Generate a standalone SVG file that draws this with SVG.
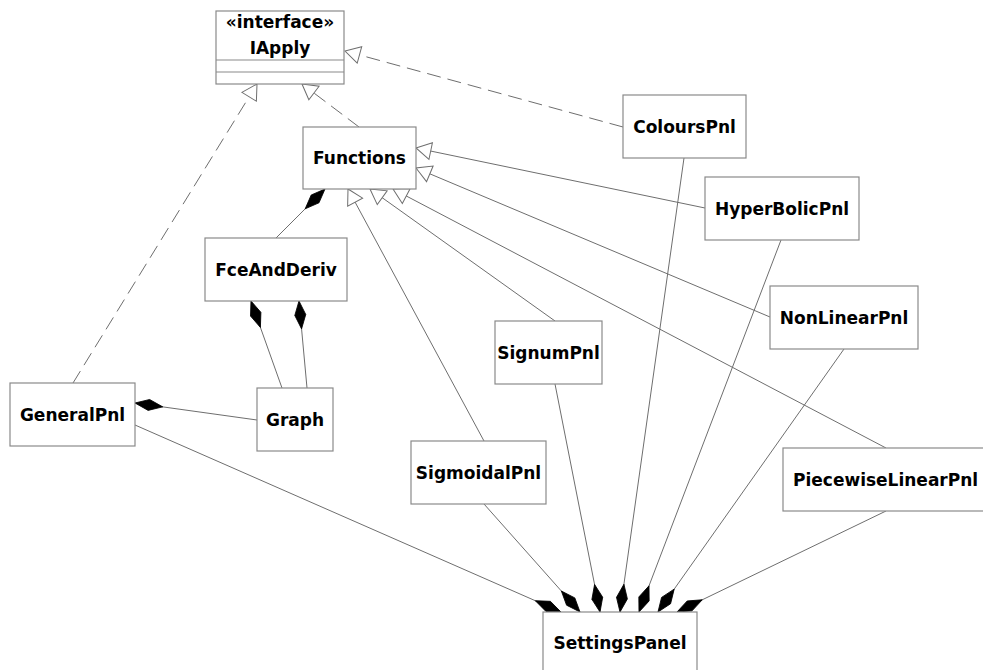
<svg xmlns="http://www.w3.org/2000/svg" width="983" height="670" viewBox="0 0 983 670">
<style>
  .box { fill: #ffffff; stroke: #8a8a8a; stroke-width: 1.2; }
  .sep { stroke: #8a8a8a; stroke-width: 1.2; }
  .lbl { font-family: "DejaVu Sans", "Liberation Sans", sans-serif; font-weight: bold; font-size: 17px; fill: #000000; text-anchor: middle; }
  .edge { fill: none; stroke: #6e6e6e; stroke-width: 1; }
  .dash { stroke-dasharray: 14 7; }
  .tri { fill: #ffffff; stroke: #6e6e6e; stroke-width: 1; stroke-dasharray: none; }
  .dia { fill: #000000; stroke: #000000; stroke-width: 0.8; stroke-dasharray: none; }
</style>
<defs>
  <marker id="hollow" markerUnits="userSpaceOnUse" markerWidth="18" markerHeight="20" refX="16" refY="9.5" orient="auto" overflow="visible">
    <path class="tri" d="M1,1 L16,9.5 L1,18 z"/>
  </marker>
  <marker id="diamond" markerUnits="userSpaceOnUse" markerWidth="30" markerHeight="14" refX="28" refY="7" orient="auto" overflow="visible">
    <path class="dia" d="M0,7 L14,1.5 L28,7 L14,12.5 z"/>
  </marker>
</defs>

<g id="connectors">
  <!-- realizations -->
  <line class="edge dash" x1="359" y1="127" x2="302" y2="84" marker-end="url(#hollow)"/>
  <line class="edge dash" x1="73" y1="383" x2="257" y2="84" marker-end="url(#hollow)"/>
  <line class="edge dash" x1="623" y1="127" x2="345" y2="51" marker-end="url(#hollow)"/>
  <!-- generalizations to Functions -->
  <line class="edge" x1="705" y1="208" x2="416" y2="148" marker-end="url(#hollow)"/>
  <line class="edge" x1="770" y1="317" x2="416" y2="168" marker-end="url(#hollow)"/>
  <line class="edge" x1="484" y1="441" x2="348" y2="189" marker-end="url(#hollow)"/>
  <line class="edge" x1="555" y1="321" x2="370" y2="189" marker-end="url(#hollow)"/>
  <line class="edge" x1="886" y1="448" x2="393" y2="189" marker-end="url(#hollow)"/>
  <!-- compositions -->
  <line class="edge" x1="276" y1="238" x2="325" y2="189" marker-end="url(#diamond)"/>
  <line class="edge" x1="282" y1="388" x2="251" y2="301" marker-end="url(#diamond)"/>
  <line class="edge" x1="307" y1="388" x2="299" y2="301" marker-end="url(#diamond)"/>
  <line class="edge" x1="257" y1="420" x2="135" y2="403" marker-end="url(#diamond)"/>
  <line class="edge" x1="135" y1="425" x2="561" y2="612" marker-end="url(#diamond)"/>
  <line class="edge" x1="484" y1="504" x2="580" y2="612" marker-end="url(#diamond)"/>
  <line class="edge" x1="555" y1="384" x2="600" y2="612" marker-end="url(#diamond)"/>
  <line class="edge" x1="684" y1="158" x2="620" y2="612" marker-end="url(#diamond)"/>
  <line class="edge" x1="781" y1="240" x2="639" y2="612" marker-end="url(#diamond)"/>
  <line class="edge" x1="844" y1="349" x2="658" y2="612" marker-end="url(#diamond)"/>
  <line class="edge" x1="886" y1="511" x2="677" y2="612" marker-end="url(#diamond)"/>
</g>

<g id="IApply">
  <rect class="box" x="216" y="11" width="128" height="73"/>
  <line class="sep" x1="216" y1="60" x2="344" y2="60"/>
  <line class="sep" x1="216" y1="72" x2="344" y2="72"/>
  <text class="lbl" x="280" y="28">«interface»</text>
  <text class="lbl" x="280" y="54">IApply</text>
</g>
<g id="Functions">
  <rect class="box" x="303" y="127" width="113" height="62"/>
  <text class="lbl" x="359.5" y="164">Functions</text>
</g>
<g id="ColoursPnl">
  <rect class="box" x="623" y="95" width="123" height="63"/>
  <text class="lbl" x="684.5" y="132.5">ColoursPnl</text>
</g>
<g id="HyperBolicPnl">
  <rect class="box" x="705" y="177" width="154" height="63"/>
  <text class="lbl" x="782" y="214.5">HyperBolicPnl</text>
</g>
<g id="FceAndDeriv">
  <rect class="box" x="205" y="238" width="142" height="63"/>
  <text class="lbl" x="276" y="275.5">FceAndDeriv</text>
</g>
<g id="NonLinearPnl">
  <rect class="box" x="770" y="286" width="148" height="63"/>
  <text class="lbl" x="844" y="323.5">NonLinearPnl</text>
</g>
<g id="SignumPnl">
  <rect class="box" x="495" y="321" width="107" height="63"/>
  <text class="lbl" x="548.5" y="358.5">SignumPnl</text>
</g>
<g id="GeneralPnl">
  <rect class="box" x="10" y="383" width="125" height="63"/>
  <text class="lbl" x="72.5" y="420.5">GeneralPnl</text>
</g>
<g id="Graph">
  <rect class="box" x="257" y="388" width="76" height="63"/>
  <text class="lbl" x="295" y="425.5">Graph</text>
</g>
<g id="SigmoidalPnl">
  <rect class="box" x="411" y="441" width="135" height="63"/>
  <text class="lbl" x="478.5" y="478.5">SigmoidalPnl</text>
</g>
<g id="PiecewiseLinearPnl">
  <rect class="box" x="783" y="448" width="210" height="63"/>
  <text class="lbl" x="793" y="485.5" style="text-anchor:start">PiecewiseLinearPnl</text>
</g>
<g id="SettingsPanel">
  <rect class="box" x="543" y="612" width="154" height="63"/>
  <text class="lbl" x="620" y="649">SettingsPanel</text>
</g>
</svg>
